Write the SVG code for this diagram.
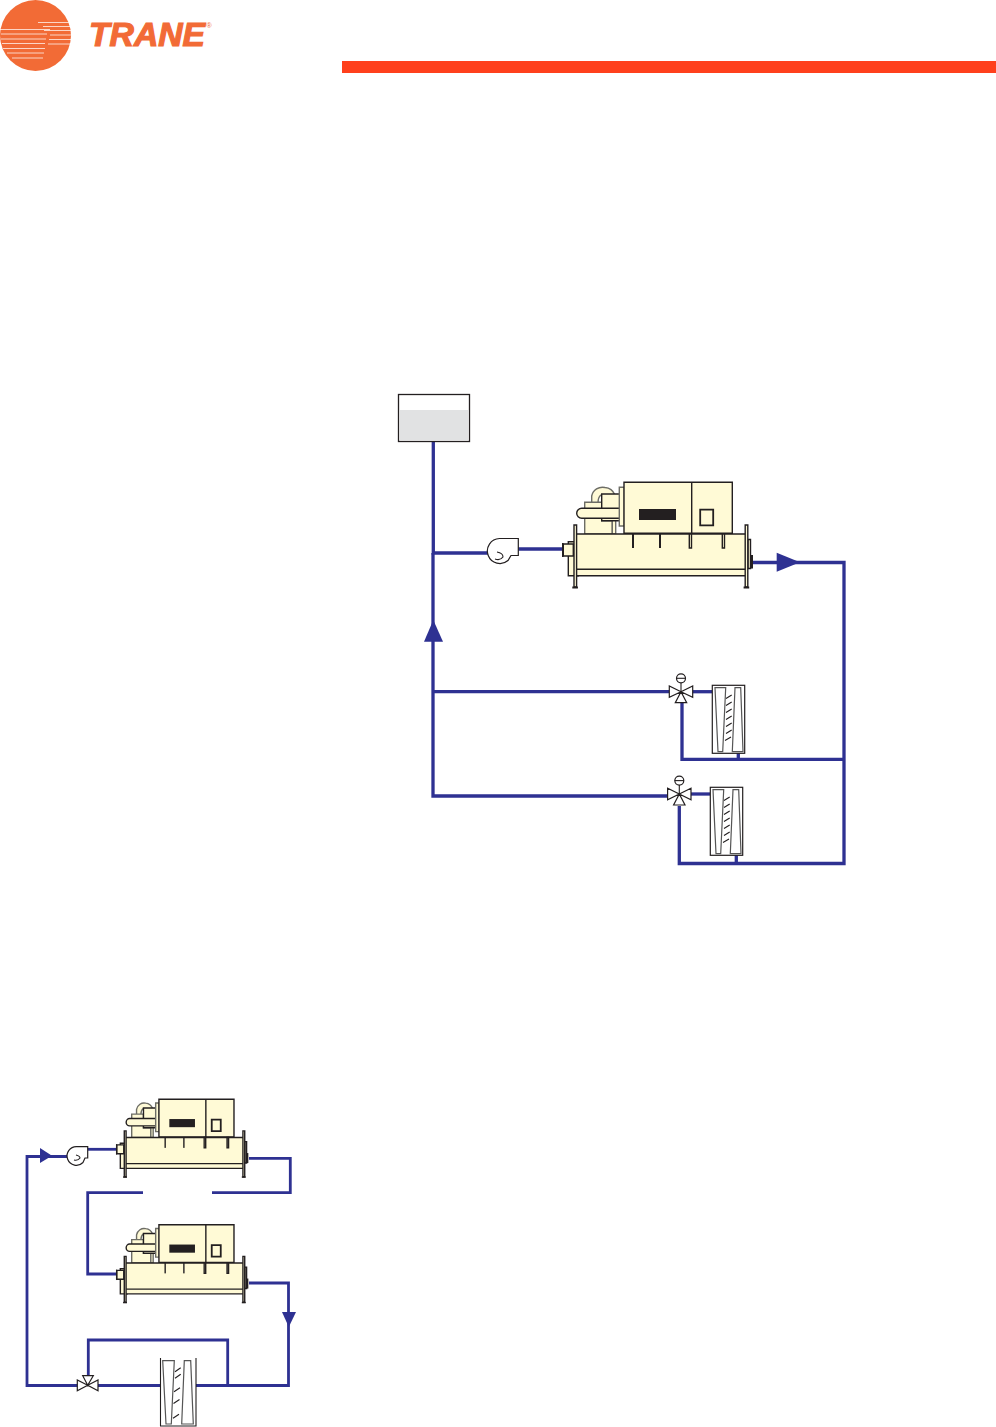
<svg xmlns="http://www.w3.org/2000/svg" width="996" height="1427" viewBox="0 0 996 1427">
<style>
.pipe{fill:none;stroke:#2E3192;stroke-width:3.3;stroke-linejoin:miter}
.pipe2{fill:none;stroke:#2E3192;stroke-width:2.8}
.head{fill:#2E3192;stroke:none}
.k{fill:#FFFAD6;stroke:#231F20;stroke-width:1.4;vector-effect:non-scaling-stroke}
.g{fill:#FFFAD6;stroke:#6d6d66;stroke-width:1.4;vector-effect:non-scaling-stroke}
.bk{fill:#231F20;stroke:none}
.w{fill:#fff;stroke:#231F20;stroke-width:1.2}
.wl{fill:#fff;stroke:#555;stroke-width:1.2}
.n{fill:none;stroke:#231F20;stroke-width:1.1}
.st{stroke:#fff;stroke-width:.8;fill:none;opacity:.9}
</style>
<defs>
<g id="chiller-art">
<path class="g" d="M591.7,503V496A11,11 0 0 1 605,487.5Q612,488 615,495H601Q598,497 598,503Z"/>
<path class="g" d="M584.7,534V502.3H601.7V520.7H612.3V534Z"/>
<rect class="g" x="612.3" y="520" width="3.4" height="14"/>
<rect class="k" x="601.7" y="494" width="18.3" height="26.7"/>
<path class="k" d="M620,508.3H581.7A5,5 0 0 0 581.7,518.3H620Z"/>
<rect class="g" x="619.3" y="487.3" width="5" height="38.7"/>
<rect class="k" x="624" y="482.3" width="108.3" height="51"/>
<line class="k" x1="691.7" y1="482.3" x2="691.7" y2="533.3"/>
<rect class="bk" x="639" y="509" width="37" height="11"/>
<rect class="k" x="700.2" y="509.7" width="13" height="15.6" style="stroke-width:1.8"/>
<rect class="k" x="568.3" y="541.7" width="10" height="34"/>
<rect class="k" x="575" y="534" width="171.7" height="41.7"/>
<line class="k" x1="575" y1="569.3" x2="746.7" y2="569.3"/>
<rect class="bk" x="632" y="534" width="2" height="14"/>
<rect class="bk" x="659" y="534" width="2" height="14"/>
<rect class="k" x="689.3" y="534" width="2.2" height="14"/>
<rect class="k" x="722.3" y="534" width="2.2" height="14"/>
<rect class="k" x="563.3" y="544" width="10" height="12"/>
<rect class="bk" x="562" y="543" width="1.6" height="14"/>
<rect class="k" x="748" y="539.5" width="2.5" height="29"/>
<rect class="bk" x="750.5" y="555" width="2.5" height="13.5"/>
<rect class="k" x="574" y="525" width="2.6" height="62"/>
<rect class="k" x="745.2" y="525" width="2.6" height="62"/>
<rect class="bk" x="572.3" y="586.5" width="5.6" height="2"/>
<rect class="bk" x="743.6" y="586.5" width="5.6" height="2"/>
</g>
<g id="coil-art">
<rect class="w" x="712.3" y="685.3" width="32.4" height="68"/>
<path class="wl" d="M715,687.7H725.7L722.7,751.7H718Z"/>
<path class="wl" d="M735,687.7H740.7L743,751.7H732.3Z"/>
<path class="n" d="M726,698.5L731.7,695M726,705.5L731.7,702M726,712.5L731.7,709M726,719.5L731.7,716M726,726.5L731.7,723M726,733.5L731.7,730M725,740.5L731,737"/>
</g>
<g id="valve-art">
<path class="w" d="M681,691.7L669.3,686V697.4ZM681,691.7L692.7,686V697.4ZM681,691.7L675.3,702.7H686.7Z"/>
<line class="n" x1="681" y1="691.7" x2="681" y2="682.8"/>
<circle class="w" cx="681" cy="678.3" r="4.5"/>
<line class="n" x1="676.5" y1="678.3" x2="685.5" y2="678.3"/>
</g>
</defs>

<g id="logo">
<circle cx="35.5" cy="35.5" r="35.5" fill="#F26B36"/>
<path class="st" d="M38,22.5H69M43,26.5H71M0,29.5H50M44,30.5H71M1,34H47M50,35H71M1,39H46M49,39.5H71M2,43.5H45M48,44H70M3,48.5H45M7,53H44M12,58H43"/>
<text x="89" y="46" font-family="'Liberation Sans',Arial,sans-serif" font-size="33" font-weight="700" font-style="italic" fill="#F26B36" stroke="#F26B36" stroke-width="1.2" textLength="116" lengthAdjust="spacingAndGlyphs">TRANE</text>
<text x="206.5" y="28" font-family="'Liberation Sans',Arial,sans-serif" font-size="7" fill="#F26B36">®</text>
</g>
<rect id="header-bar" x="342" y="61" width="654" height="12" fill="#FF401C"/>

<g id="connectors">
<path class="pipe" d="M433.3,441V553H488"/>
<path class="pipe" d="M518,549H563"/>
<path class="pipe" d="M433,553V796H668"/>
<path class="pipe" d="M433,691.7H669"/>
<path class="pipe" d="M752,562.5H844V863.5H679.3V806"/>
<path class="pipe" d="M692,691.7H712"/>
<path class="pipe" d="M682,703V759.3H844"/>
<path class="pipe" d="M738.3,749V759"/>
<path class="pipe" d="M690,794H710"/>
<path class="pipe" d="M736.3,851V863"/>
<polygon class="head" points="433.3,620 424,641.7 443,641.7"/>
<polygon class="head" points="800,562.3 776.7,552.7 776.7,571.7"/>

<path class="pipe2" d="M68,1156.5H27V1385.5H78"/>
<path class="pipe2" d="M88,1149.3H116"/>
<path class="pipe2" d="M249,1158.3H290.3V1192.7H212"/>
<path class="pipe2" d="M143,1192.7H87.7V1274H116"/>
<path class="pipe2" d="M249,1283H288.5V1385.5H196"/>
<path class="pipe2" d="M98,1385.5H160"/>
<path class="pipe2" d="M88.3,1376V1340H227.7V1385.5"/>
<polygon class="head" points="52,1155.7 40,1148 40,1163"/>
<polygon class="head" points="288.8,1327 282,1312 296,1312"/>
</g>

<g id="tank">
<rect x="398.5" y="394.5" width="71" height="47" fill="#fff" stroke="#231F20" stroke-width="1.3"/>
<rect x="400" y="410" width="68" height="30" fill="#E1E2E3"/>
</g>
<g id="pump-main">
<path class="w" d="M518.3,538.5H499.5A12.5,12.5 0 1 0 508,560.5L511,555.5H518.3Z"/>
<path class="n" d="M497,552Q503,553 503,557Q500,561 495,559"/>
</g>
<g id="chiller-main"><use href="#chiller-art"/></g>
<g id="valve-1"><use href="#valve-art"/></g>
<g id="coil-1"><use href="#coil-art"/></g>
<g id="valve-2"><use href="#valve-art" transform="translate(-1.7,102.3)"/></g>
<g id="coil-2"><use href="#coil-art" transform="translate(-2,102)"/></g>

<g id="pump-small">
<path class="w" d="M87.7,1146.7H77A9.3,9.3 0 1 0 83,1162.5L85,1158H87.7Z"/>
<path class="n" d="M76,1155Q80,1156 80,1158Q78,1161 74,1160"/>
</g>
<g id="chiller-upper"><use href="#chiller-art" transform="translate(-273.5,742.9) scale(0.693,0.739)"/></g>
<g id="chiller-lower"><use href="#chiller-art" transform="translate(-273.5,868.4) scale(0.693,0.739)"/></g>
<g id="valve-small">
<path class="w" d="M87.7,1385.3L77.3,1380V1390.7ZM87.7,1385.3L98,1380V1390.7ZM87.7,1385.3L82.7,1375.7H93.3Z"/>
</g>
<g id="coil-small">
<path fill="#fff" stroke="#231F20" stroke-width="1.1" d="M160.5,1358V1426H196V1358"/>
<path class="wl" d="M162.7,1360.7H174.3L171.3,1424H166Z"/>
<path class="wl" d="M184.3,1360.7H190.7L193.3,1424H181.7Z"/>
<path class="n" d="M175,1371.7L180.7,1367.7M175,1378.3L180.7,1374.3M174,1391.7L180,1387.7M173.5,1403.5L179.5,1399.5M173,1418.3L179,1414.3"/>
</g>
</svg>
